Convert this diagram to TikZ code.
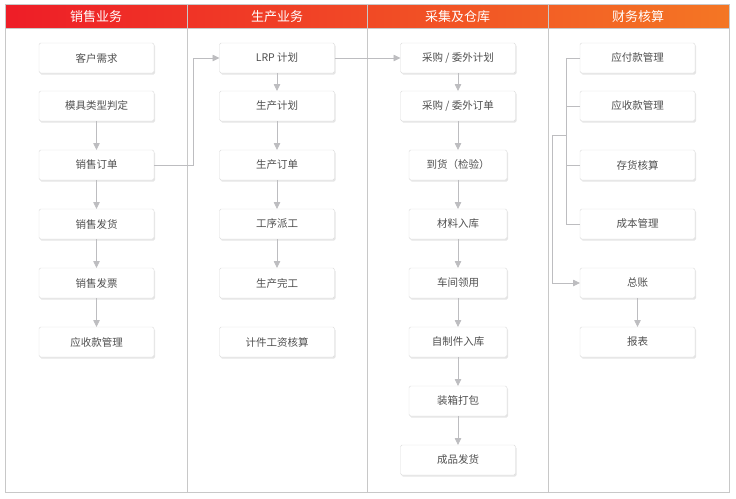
\documentclass[tikz,border=0pt]{standalone}
\usepackage{fontspec}
\setmainfont{Noto Sans CJK SC}
\usepackage{xcolor}
\usepackage{tikz}
\usetikzlibrary{
  arrows.meta,
  positioning,
  shadows
}
\definecolor{headleft}{HTML}{EE1D27}
\definecolor{headright}{HTML}{F47624}
\definecolor{framegray}{HTML}{C8C8C8}
\definecolor{linegray}{HTML}{BDBDC0}
\definecolor{boxline}{HTML}{DCDCDC}
\definecolor{textgray}{HTML}{505050}
\tikzset{
  box/.style={draw=boxline, fill=white, rounded corners=1.5pt,
    minimum width=115pt, minimum height=30pt, inner sep=0pt, outer sep=0pt,
    text=textgray, font=\fontsize{10.5}{12}\selectfont,
    drop shadow={shadow xshift=1pt, shadow yshift=-1.5pt, fill=black!20}},
  narrow/.style={box, minimum width=98pt},
  head/.style={text=white, font=\fontsize{13}{15}\selectfont},
  link/.style={draw=linegray, line width=0.8pt}
}

\begin{document}
\begin{tikzpicture}[x=1pt, y=-1pt, >={Triangle[length=7pt,width=6.5pt]}, node distance=29pt]
  \useasboundingbox (0,0) rectangle (736,498);
  % frame and header
  \shade [left color=headleft, right color=headright] (5,5) rectangle (729,28);
  \draw [framegray] (5,4) rectangle (729,492);
  \draw [framegray] (5,28) -- (729,28);
  \foreach \x in {187,367,548}
    \draw [framegray] (\x,5) -- (\x,492);
  \node [head] (hsales) at (96,16.5) {销售业务};
  \node [head] (hprod) at (277,16.5) {生产业务};
  \node [head] (hbuy) at (457.5,16.5) {采集及仓库};
  \node [head] (hfin) at (638,16.5) {财务核算};

  % sales
  \node [box] (demand) at (96.5,58) {客户需求};
  \node [box, below=18pt of demand] (moldtype) {模具类型判定};
  \node [box, below=of moldtype] (salesorder) {销售订单};
  \node [box, below=of salesorder] (delivery) {销售发货};
  \node [box, below=of delivery] (invoice) {销售发票};
  \node [box, below=of invoice] (salesrecv) {应收款管理};

  % production
  \node [box] (lrp) at (277,58) {LRP 计划};
  \node [box, below=18pt of lrp] (prodplan) {生产计划};
  \node [box, below=of prodplan] (prodorder) {生产订单};
  \node [box, below=of prodorder] (dispatch) {工序派工};
  \node [box, below=of dispatch] (finish) {生产完工};
  \node [box, below=of finish] (piecewage) {计件工资核算};

  % purchase and stock
  \node [box] (buyplan) at (458,58) {采购 / 委外计划};
  \node [box, below=18pt of buyplan] (buyorder) {采购 / 委外订单};
  \node [narrow, below=of buyorder] (arrival) {到货（检验）};
  \node [narrow, below=of arrival] (stockin) {材料入库};
  \node [narrow, below=of stockin] (workshop) {车间领用};
  \node [narrow, below=of workshop] (selfmade) {自制件入库};
  \node [narrow, below=of selfmade] (packing) {装箱打包};
  \node [box, below=of packing] (shipping) {成品发货};

  % finance
  \node [box] (payable) at (637.5,58) {应付款管理};
  \node [box, below=18pt of payable] (receivable) {应收款管理};
  \node [box, below=of receivable] (inventory) {存货核算};
  \node [box, below=of inventory] (costmgmt) {成本管理};
  \node [box, below=of costmgmt] (ledger) {总账};
  \node [box, below=of ledger] (report) {报表};

  % connectors
  \draw [link, ->] (moldtype) -- (salesorder);
  \draw [link, ->] (salesorder) -- (delivery);
  \draw [link, ->] (delivery) -- (invoice);
  \draw [link, ->] (invoice) -- (salesrecv);
  \draw [link, ->] (salesorder.east) -- ++(39,0) |- (lrp.west);

  \draw [link, ->] (lrp) -- (prodplan);
  \draw [link, ->] (prodplan) -- (prodorder);
  \draw [link, ->] (prodorder) -- (dispatch);
  \draw [link, ->] (dispatch) -- (finish);
  \draw [link, ->] (lrp) -- (buyplan);

  \draw [link, ->] (buyplan) -- (buyorder);
  \draw [link, ->] (buyorder) -- (arrival);
  \draw [link, ->] (arrival) -- (stockin);
  \draw [link, ->] (stockin) -- (workshop);
  \draw [link, ->] (workshop) -- (selfmade);
  \draw [link, ->] (selfmade) -- (packing);
  \draw [link, ->] (packing) -- (shipping);

  \draw [link] (payable.west) -- ++(-14,0) |- (costmgmt.west);
  \draw [link] (receivable.west) -- ++(-14,0);
  \draw [link] (inventory.west) -- ++(-14,0);
  \coordinate (busmid) at (566,135);
  \draw [link, ->] (busmid) -- ++(-14,0) |- (ledger.west);
  \draw [link, ->] (ledger) -- (report);
\end{tikzpicture}
\end{document}
